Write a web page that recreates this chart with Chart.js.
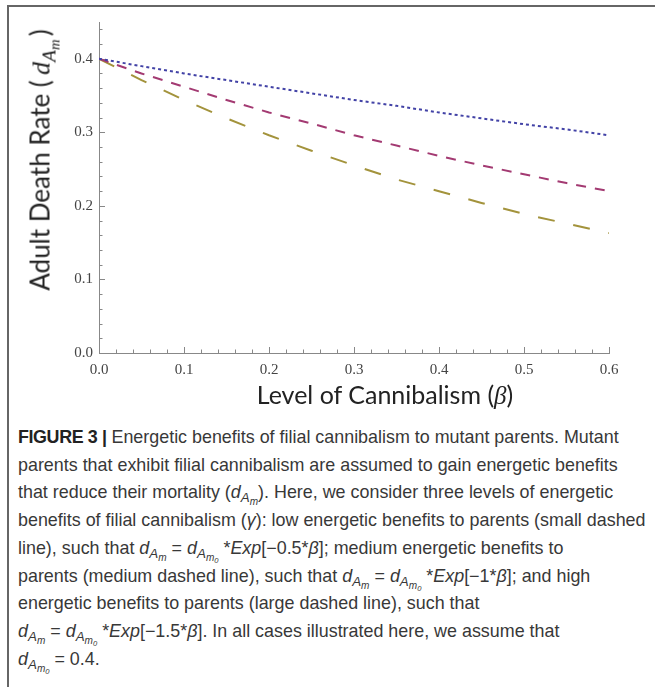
<!DOCTYPE html>
<html>
<head>
<meta charset="utf-8">
<script src="https://cdn.jsdelivr.net/npm/chart.js@4.4.0/dist/chart.umd.min.js"></script>
<style>
  html, body { margin: 0; padding: 0; background: #fff; }
  body { width: 655px; height: 687px; position: relative; overflow: hidden; }
  #frame { position: absolute; left: 7px; top: 5px; width: 700px; height: 700px;
           border-left: 2px solid #666; border-top: 2px solid #666; }
  #chart { position: absolute; left: 0; top: 0; }
  .ytitle { position: absolute; left: 40px; top: 160px; transform: translate(-50%, -50%) rotate(-90deg);
            font-family: Lato, sans-serif; font-size: 26px; color: #222; white-space: nowrap; }
  .xtitle { position: absolute; left: 385px; top: 394px; transform: translate(-50%, -50%);
            font-family: Lato, sans-serif; font-size: 25px; color: #222; white-space: nowrap; }
  .m { font-family: "Liberation Serif", serif; font-style: italic; }
  .caption { position: absolute; left: 18px; top: 424px; font-family: "Liberation Sans", Arial, sans-serif;
             font-size: 17.9px; line-height: 27.7px; color: #383838; white-space: nowrap; }
  .caption b { color: #222; letter-spacing: -0.4px; }
  sub { font-size: 75%; vertical-align: -0.3em; line-height: 0; }
</style>
</head>
<body>
<div id="frame"></div>
<canvas id="chart" width="655" height="420"></canvas>
<div class="ytitle">Adult Death Rate (<span class="m">&thinsp;d<sub>A<sub>m</sub></sub></span>&thinsp;)</div>
<div class="xtitle">Level of Cannibalism (<span class="m">β</span>)</div>
<div class="caption">
<b>FIGURE 3 |</b> Energetic benefits of filial cannibalism to mutant parents. Mutant<br>
parents that exhibit filial cannibalism are assumed to gain energetic benefits<br>
that reduce their mortality (<i>d<sub>A<sub>m</sub></sub></i>). Here, we consider three levels of energetic<br>
benefits of filial cannibalism (<i>γ</i>): low energetic benefits to parents (small dashed<br>
line), such that <i>d<sub>A<sub>m</sub></sub></i> = <i>d<sub>A<sub>m<sub>0</sub></sub></sub></i> *<i>Exp</i>[−0.5*<i>β</i>]; medium energetic benefits to<br>
parents (medium dashed line), such that <i>d<sub>A<sub>m</sub></sub></i> = <i>d<sub>A<sub>m<sub>0</sub></sub></sub></i> *<i>Exp</i>[−1*<i>β</i>]; and high<br>
energetic benefits to parents (large dashed line), such that<br>
<i>d<sub>A<sub>m</sub></sub></i> = <i>d<sub>A<sub>m<sub>0</sub></sub></sub></i> *<i>Exp</i>[−1.5*<i>β</i>]. In all cases illustrated here, we assume that<br>
<i>d<sub>A<sub>m<sub>0</sub></sub></sub></i> = 0.4.
</div>
<script>
// level of cannibalism (beta)
const betaValues = [0, 0.05, 0.1, 0.15, 0.2, 0.25, 0.3, 0.35, 0.4, 0.45, 0.5, 0.55, 0.6];
// adult death rate, small / medium / large dashed lines
const lowBenefit  = [0.400, 0.390, 0.380, 0.371, 0.362, 0.353, 0.344, 0.336, 0.327, 0.319, 0.311, 0.304, 0.296];
const midBenefit  = [0.400, 0.380, 0.362, 0.344, 0.327, 0.312, 0.296, 0.282, 0.268, 0.255, 0.243, 0.231, 0.220];
const highBenefit = [0.400, 0.371, 0.344, 0.319, 0.296, 0.275, 0.255, 0.236, 0.220, 0.204, 0.189, 0.176, 0.163];
// tick labels
const xTickValues = [0, 0.1, 0.2, 0.3, 0.4, 0.5, 0.6];
const yTickValues = [0, 0.1, 0.2, 0.3, 0.4];

function toPoints(ys) {
    return betaValues.map((b, i) => ({ x: b, y: ys[i] }));
}

// inward major/minor tick marks, Mathematica style
const inwardTicks = {
    id: 'inwardTicks',
    beforeDatasetsDraw(chart) {
        const { ctx, chartArea, scales } = chart;
        ctx.save();
        ctx.strokeStyle = '#888';
        ctx.lineWidth = 1;
        ctx.beginPath();
        for (let i = 0; i <= 30; i++) {
            const px = Math.round(scales.x.getPixelForValue(i * 0.02)) + 0.5;
            const len = i % 5 === 0 ? 6 : 3.5;
            ctx.moveTo(px, chartArea.bottom);
            ctx.lineTo(px, chartArea.bottom - len);
        }
        for (let i = 0; i <= 22; i++) {
            const py = Math.round(scales.y.getPixelForValue(i * 0.02)) + 0.5;
            const len = i % 5 === 0 ? 6 : 3.5;
            ctx.moveTo(chartArea.left, py);
            ctx.lineTo(chartArea.left + len, py);
        }
        ctx.stroke();
        ctx.restore();
    }
};

const tickFont = { family: '"Liberation Serif", serif', size: 15 };

new Chart(document.getElementById('chart'), {
    type: 'scatter',
    data: {
        datasets: [{
            label: 'low',
            data: toPoints(lowBenefit),
            showLine: true,
            borderColor: '#4242a6',
            borderWidth: 2,
            borderDash: [3, 3],
            pointRadius: 0
        }, {
            label: 'medium',
            data: toPoints(midBenefit),
            showLine: true,
            borderColor: '#a33a72',
            borderWidth: 2,
            borderDash: [10, 9],
            pointRadius: 0
        }, {
            label: 'high',
            data: toPoints(highBenefit),
            showLine: true,
            borderColor: '#a3933c',
            borderWidth: 2,
            borderDash: [17, 19],
            pointRadius: 0
        }]
    },
    options: {
        responsive: false,
        animation: false,
        layout: {
            padding: { left: 58, top: 22, right: 46, bottom: 0 }
        },
        plugins: {
            legend: { display: false },
            tooltip: { enabled: false }
        },
        scales: {
            x: {
                type: 'linear',
                min: 0,
                max: 0.6,
                afterBuildTicks: (scale) => { scale.ticks = xTickValues.map(v => ({ value: v })); },
                afterFit: (scale) => { scale.height = 67; },
                grid: { display: false, drawTicks: false },
                border: { display: true, color: '#888', width: 1 },
                ticks: {
                    padding: 8,
                    color: '#444',
                    font: tickFont,
                    maxRotation: 0,
                    callback: (v) => v.toFixed(1)
                }
            },
            y: {
                type: 'linear',
                min: 0,
                max: 0.45,
                afterBuildTicks: (scale) => { scale.ticks = yTickValues.map(v => ({ value: v })); },
                afterFit: (scale) => { scale.width = 41; },
                grid: { display: false, drawTicks: false },
                border: { display: true, color: '#888', width: 1 },
                ticks: {
                    padding: 6,
                    color: '#444',
                    font: tickFont,
                    callback: (v) => v.toFixed(1)
                }
            }
        }
    },
    plugins: [inwardTicks]
});
</script>
</body>
</html>
